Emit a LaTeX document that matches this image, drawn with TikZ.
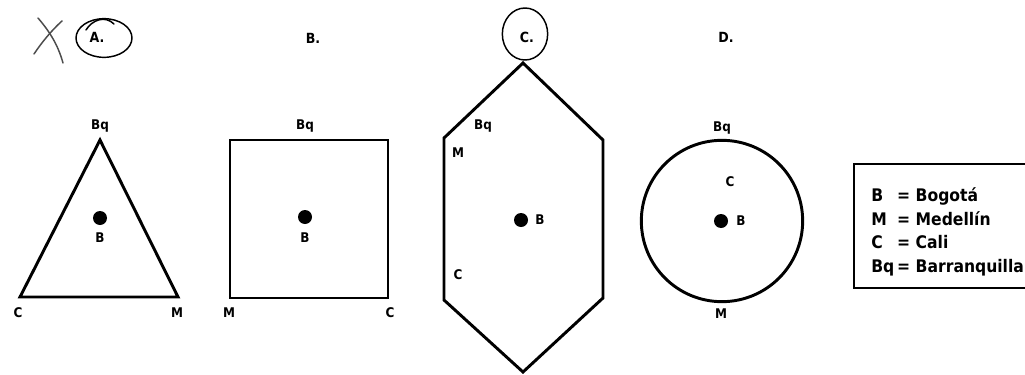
\documentclass[tikz,border=0pt]{standalone}
\usepackage{fontspec}
\setmainfont{DejaVu Sans Condensed}
\begin{document}
\begin{tikzpicture}[x=0.75pt,y=-0.75pt,
  shapeline/.style={line width=2.2pt, line join=miter},
  lbl/.style={font=\bfseries\fontsize{10}{11}\selectfont, inner sep=0pt},
  ttl/.style={font=\bfseries\fontsize{10.5}{11}\selectfont, inner sep=0pt},
  dot/.style={circle, fill=black, minimum size=10.5pt, inner sep=0pt},
  hand/.style={line width=1.1pt, line cap=round, line join=round},
  legendbox/.style={draw, line width=1.5pt, anchor=north west, minimum width=150pt, minimum height=93pt, inner sep=0pt}]
\useasboundingbox (0,0) rectangle (1025,375);
\clip (0,0) rectangle (1025,375);
\fill[white] (0,0) rectangle (1025,375);

% ---- titles ----
\node[ttl] (tA) at (97,37) {A.};
\node[ttl] (tB) at (313,38) {B.};
\node[ttl] (tC) at (527,37) {C.};
\node[ttl] (tD) at (726,37) {D.};
% hand marks
\draw[hand, black!70] (38,18) .. controls (50,32) and (58,45) .. (63,63);
\draw[hand, black!70] (62,21) .. controls (52,30) and (42,42) .. (34,54);
\draw[hand] (104,38) ellipse [x radius=21pt, y radius=14.5pt];
\draw[hand] (86,30) .. controls (92,20) and (105,15) .. (114,24);
\draw[hand] (525,34) ellipse [x radius=17pt, y radius=19.5pt];

% ---- A: triangle ----
\coordinate (A1) at (100,140);
\coordinate (A2) at (20,297);
\coordinate (A3) at (178,297);
\draw[shapeline] (A1) -- (A2) -- (A3) -- cycle;
\node[dot] (Adot) at (100,218) {};
\node[lbl] (AB) at (100,238) {B};
\node[lbl] (ABq) at (100,126) {Bq};
\node[lbl] (AC) at (18,313) {C};
\node[lbl] (AM) at (177,313) {M};

% ---- B: square ----
\coordinate (B1) at (230,140);
\coordinate (B2) at (388,298);
\draw[shapeline] (B1) rectangle (B2);
\node[dot] (Bdot) at (305,217) {};
\node[lbl] (BB) at (305,238) {B};
\node[lbl] (BBq) at (305,126) {Bq};
\node[lbl] (BM) at (229,313) {M};
\node[lbl] (BC) at (390,313) {C};

% ---- C: hexagon ----
\coordinate (C1) at (523,63);
\coordinate (C2) at (603,140);
\coordinate (C3) at (603,298);
\coordinate (C4) at (523,372);
\coordinate (C5) at (444,300);
\coordinate (C6) at (444,138);
\draw[shapeline] (C1) -- (C2) -- (C3) -- (C4) -- (C5) -- (C6) -- cycle;
\node[dot] (Cdot) at (521,220) {};
\node[lbl] (CB) at (540,220) {B};
\node[lbl] (CBq) at (483,126) {Bq};
\node[lbl] (CM) at (458,153) {M};
\node[lbl] (CC) at (458,275) {C};

% ---- D: circle ----
\node[draw, circle, line width=2.2pt, minimum size=121pt, inner sep=0pt] (Dcirc) at (722,221) {};
\node[dot] (Ddot) at (721,221) {};
\node[lbl] (DB) at (741,221) {B};
\node[lbl] (DBq) at (722,128) {Bq};
\node[lbl] (DC) at (730,182) {C};
\node[lbl] (DM) at (721,314) {M};

% ---- legend ----
\node[legendbox] (leg) at (853,163) {};
\node[anchor=north west, inner sep=0pt, font=\bfseries\fontsize{13}{17.6}\selectfont] (legtext) at (871,185)
  {\begin{tabular}{@{}l@{\,}l@{}}B & = Bogotá\\ M & = Medellín\\ C & = Cali\\ Bq & = Barranquilla\end{tabular}};
\end{tikzpicture}
\end{document}
